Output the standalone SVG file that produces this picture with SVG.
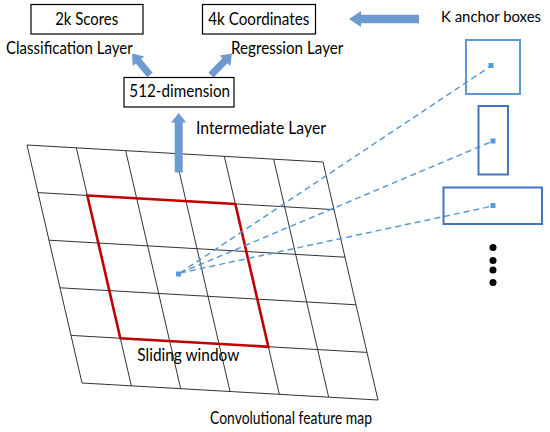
<svg xmlns="http://www.w3.org/2000/svg" width="550" height="432" viewBox="0 0 550 432">
<style>
text{font-family:Lato,"Liberation Sans",Arial,sans-serif;font-size:16.5px;fill:#000}
.box{fill:#fff;stroke:#000;stroke-width:1.2}
.grid{stroke:#333;stroke-width:1;fill:none}
.arrow{fill:#6E9BCF}
.dash{stroke:#5B9BD5;stroke-width:1.5;stroke-dasharray:6 4;fill:none}
.pt{fill:#5B9BD5}
.anc1{fill:none;stroke:#5B9BD5;stroke-width:2}
.anc2{fill:none;stroke:#4472C4;stroke-width:2}
</style>
<rect width="550" height="432" fill="#fff"/>
<g id="feature-map">
<g class="grid">
<line x1="27" y1="145" x2="82" y2="383"/>
<line x1="76.33" y1="147.83" x2="131.33" y2="385.83"/>
<line x1="125.67" y1="150.67" x2="180.67" y2="388.67"/>
<line x1="175" y1="153.5" x2="230" y2="391.5"/>
<line x1="224.33" y1="156.33" x2="279.33" y2="394.33"/>
<line x1="273.67" y1="159.17" x2="328.67" y2="397.17"/>
<line x1="323" y1="162" x2="378" y2="400"/>
<line x1="27" y1="145" x2="323" y2="162"/>
<line x1="38" y1="192.6" x2="334" y2="209.6"/>
<line x1="49" y1="240.2" x2="345" y2="257.2"/>
<line x1="60" y1="287.8" x2="356" y2="304.8"/>
<line x1="71" y1="335.4" x2="367" y2="352.4"/>
<line x1="82" y1="383" x2="378" y2="400"/>
</g>
<text x="210" y="424" textLength="162" lengthAdjust="spacingAndGlyphs">Convolutional feature map</text>
</g>
<g id="sliding-window">
<polygon points="87.33,195.43 235.33,203.93 268.33,346.73 120.33,338.23" fill="none" stroke="#C00000" stroke-width="2.6"/>
<text x="137.3" y="361" textLength="102" lengthAdjust="spacingAndGlyphs">Sliding window</text>
</g>
<g id="connectors">
<line class="dash" x1="180" y1="273" x2="491" y2="66"/>
<line class="dash" x1="180" y1="273" x2="493" y2="141"/>
<line class="dash" x1="180" y1="273" x2="493" y2="206"/>
<rect class="pt" x="176" y="271.5" width="5" height="5"/>
<path class="arrow" transform="translate(150,75) rotate(-129.9)" d="M0,-3.5 H18 V-7.5 L28,0 L18,7.5 V3.5 H0 Z"/>
<path class="arrow" transform="translate(211,75) rotate(-45.7)" d="M0,-3.5 H20 V-7.5 L30,0 L20,7.5 V3.5 H0 Z"/>
<path class="arrow" transform="translate(178.7,172.5) rotate(-90)" d="M0,-4 H50 V-7.5 L59.5,0 L50,7.5 V4 H0 Z"/>
<path class="arrow" transform="translate(419,19) rotate(180)" d="M0,-4.2 H58 V-8 L70,0 L58,8 V4.2 H0 Z"/>
</g>
<g id="scores">
<rect class="box" x="31" y="4.5" width="112" height="29.5"/>
<text x="86.7" y="25" text-anchor="middle" textLength="63" lengthAdjust="spacingAndGlyphs">2k Scores</text>
<text x="6" y="54" textLength="126.7" lengthAdjust="spacingAndGlyphs">Classification Layer</text>
</g>
<g id="coordinates">
<rect class="box" x="202.5" y="4.5" width="113" height="29.5"/>
<text x="258.8" y="25" text-anchor="middle" textLength="101" lengthAdjust="spacingAndGlyphs">4k Coordinates</text>
<text x="231" y="54" textLength="112.3" lengthAdjust="spacingAndGlyphs">Regression Layer</text>
</g>
<g id="dimension">
<rect class="box" x="124" y="77.5" width="110" height="29.5"/>
<text x="179.7" y="97" text-anchor="middle" textLength="100.7" lengthAdjust="spacingAndGlyphs">512-dimension</text>
<text x="196" y="134" textLength="130" lengthAdjust="spacingAndGlyphs">Intermediate Layer</text>
</g>
<g id="anchors">
<text x="441" y="22" style="font-size:15.5px" textLength="100" lengthAdjust="spacingAndGlyphs">K anchor boxes</text>
<rect class="anc1" x="466" y="40" width="54" height="54"/>
<rect class="anc2" x="478.5" y="106" width="29.5" height="68.5"/>
<rect class="anc2" x="443.5" y="187.5" width="98.5" height="36.5"/>
<rect class="pt" x="488.5" y="63" width="5" height="5"/>
<rect class="pt" x="490.5" y="138.5" width="5" height="5"/>
<rect class="pt" x="490.5" y="203" width="5" height="5"/>
<circle cx="493" cy="247.5" r="3.5"/>
<circle cx="493" cy="260.5" r="3.5"/>
<circle cx="493" cy="270" r="3.5"/>
<circle cx="493" cy="282.5" r="3.5"/>
</g>
</svg>
